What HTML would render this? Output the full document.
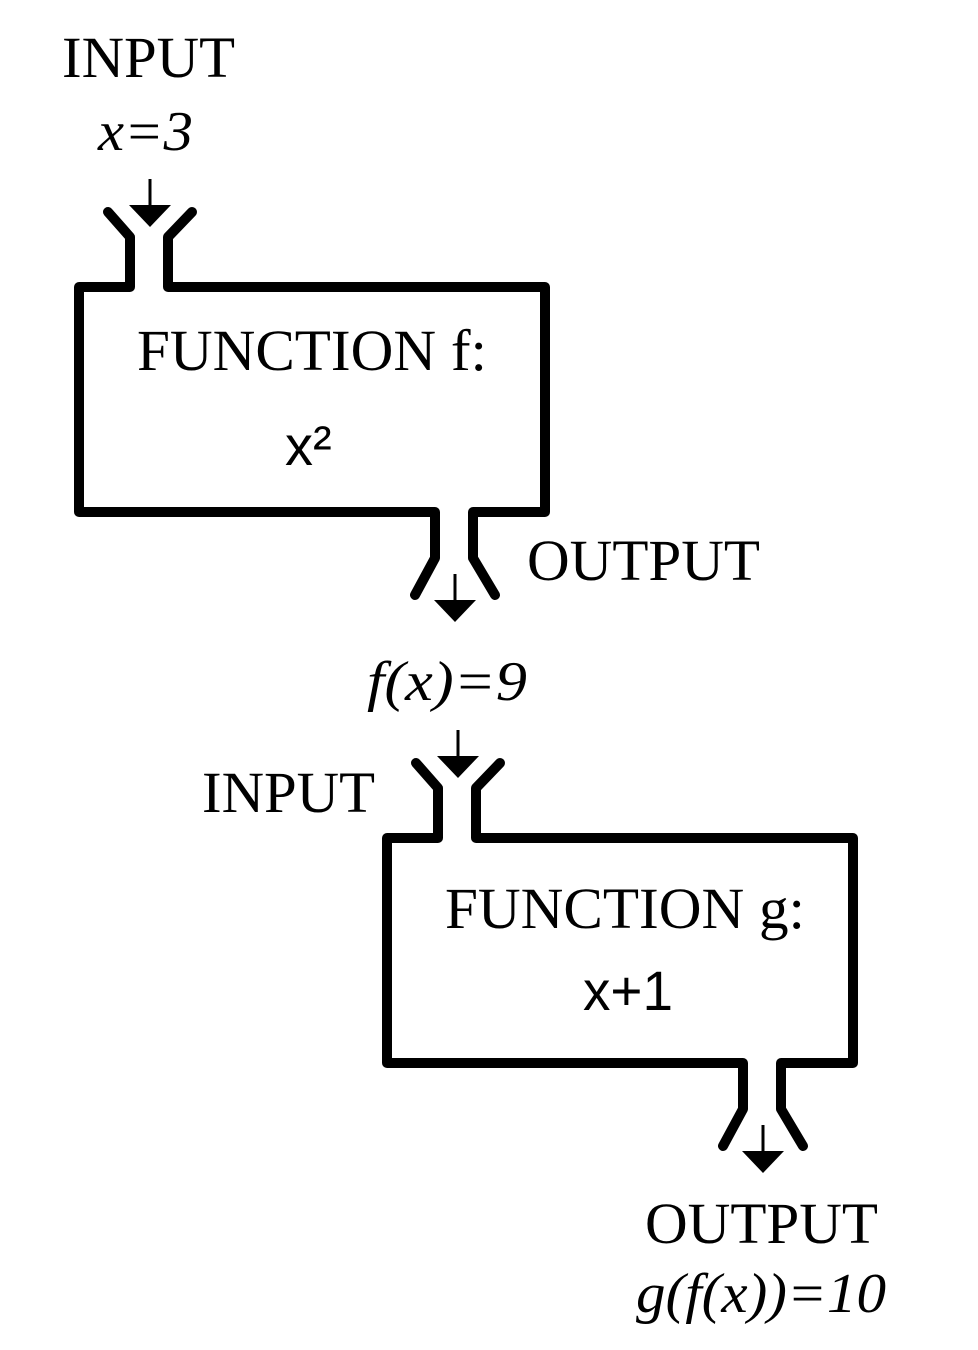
<!DOCTYPE html>
<html><head><meta charset="utf-8"><style>
html,body{margin:0;padding:0;background:#fff;}
svg{display:block;}
.t{font-family:"Liberation Serif",serif;font-size:58px;fill:#000;}
.i{font-family:"Liberation Serif",serif;font-style:italic;font-size:56px;fill:#000;}
.s{font-family:"Liberation Sans",sans-serif;font-size:56px;fill:#000;}
</style></head><body>
<svg width="978" height="1350" viewBox="0 0 978 1350" xmlns="http://www.w3.org/2000/svg">
<defs>
<g id="box">
<path d="M108,212 L130,237 L130,287 L79,287 L79,512 L435,512 L435,558 L415,595 M192,212 L168,237 L168,287 L545,287 L545,512 L473,512 L473,558 L495,595" fill="none" stroke="#000" stroke-width="10" stroke-linejoin="round" stroke-linecap="round"/>
<line x1="150" y1="179" x2="150" y2="206" stroke="#000" stroke-width="3"/>
<polygon points="129,205 171,205 150,227" fill="#000"/>
<line x1="455" y1="574" x2="455" y2="601" stroke="#000" stroke-width="3"/>
<polygon points="434,600 476,600 455,622" fill="#000"/>
</g>
</defs>
<use href="#box"/>
<use href="#box" transform="translate(308,551)"/>
<text class="t" x="62" y="77" textLength="173" lengthAdjust="spacingAndGlyphs">INPUT</text>
<text class="i" x="98" y="150" textLength="95" lengthAdjust="spacingAndGlyphs">x=3</text>
<text class="t" x="137" y="370" textLength="350" lengthAdjust="spacingAndGlyphs">FUNCTION f:</text>
<text class="s" x="285" y="465">x²</text>
<text class="t" x="527" y="580" textLength="233" lengthAdjust="spacingAndGlyphs">OUTPUT</text>
<text class="i" x="367" y="700" textLength="160" lengthAdjust="spacingAndGlyphs">f(x)=9</text>
<text class="t" x="202" y="812" textLength="173" lengthAdjust="spacingAndGlyphs">INPUT</text>
<text class="t" x="445" y="928" textLength="360" lengthAdjust="spacingAndGlyphs">FUNCTION g:</text>
<text class="s" x="583" y="1010" textLength="90" lengthAdjust="spacingAndGlyphs">x+1</text>
<text class="t" x="645" y="1243" textLength="233" lengthAdjust="spacingAndGlyphs">OUTPUT</text>
<text class="i" x="636" y="1312" textLength="250" lengthAdjust="spacingAndGlyphs">g(f(x))=10</text>
</svg>
</body></html>
